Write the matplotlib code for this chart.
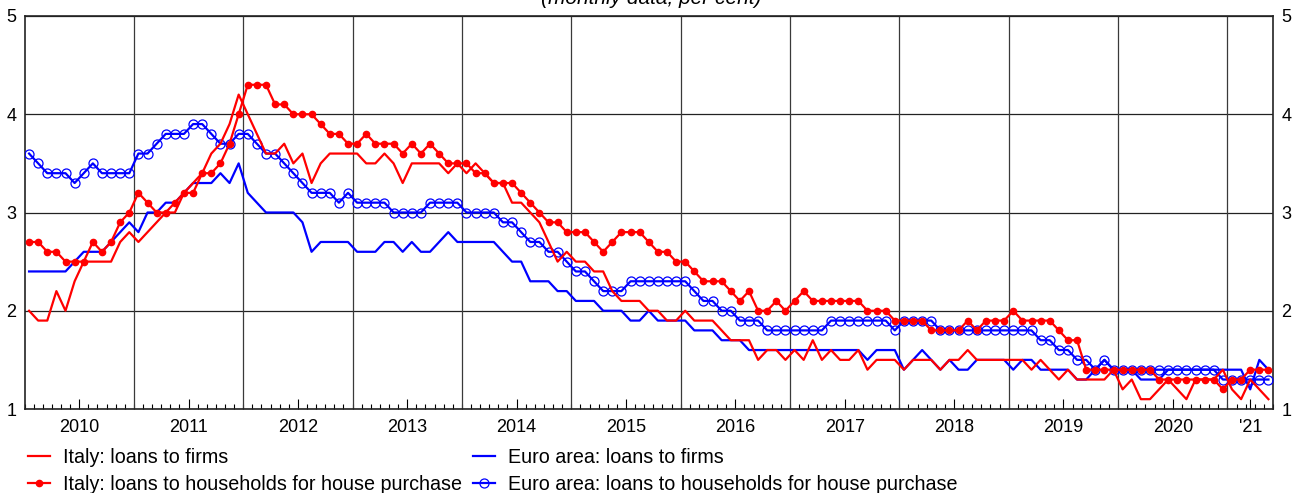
import numpy as np
import matplotlib.pyplot as plt
from matplotlib.lines import Line2D

plt.rcParams['font.family'] = ['Liberation Sans', 'DejaVu Sans']

# monthly data, Jan 2010 - May 2021 (per cent)
year_labels = ['2010', '2011', '2012', '2013', '2014', '2015', '2016',
               '2017', '2018', '2019', '2020', "'21"]

italy_firms = [
    2.0, 1.9, 1.9, 2.2, 2.0, 2.3, 2.5, 2.5, 2.5, 2.5, 2.7, 2.8,
    2.7, 2.8, 2.9, 3.0, 3.0, 3.2, 3.3, 3.4, 3.6, 3.7, 3.9, 4.2,
    4.0, 3.8, 3.6, 3.6, 3.7, 3.5, 3.6, 3.3, 3.5, 3.6, 3.6, 3.6,
    3.6, 3.5, 3.5, 3.6, 3.5, 3.3, 3.5, 3.5, 3.5, 3.5, 3.4, 3.5,
    3.4, 3.5, 3.4, 3.3, 3.3, 3.1, 3.1, 3.0, 2.9, 2.7, 2.5, 2.6,
    2.5, 2.5, 2.4, 2.4, 2.2, 2.1, 2.1, 2.1, 2.0, 2.0, 1.9, 1.9,
    2.0, 1.9, 1.9, 1.9, 1.8, 1.7, 1.7, 1.7, 1.5, 1.6, 1.6, 1.5,
    1.6, 1.5, 1.7, 1.5, 1.6, 1.5, 1.5, 1.6, 1.4, 1.5, 1.5, 1.5,
    1.4, 1.5, 1.5, 1.5, 1.4, 1.5, 1.5, 1.6, 1.5, 1.5, 1.5, 1.5,
    1.5, 1.5, 1.4, 1.5, 1.4, 1.3, 1.4, 1.3, 1.3, 1.3, 1.3, 1.4,
    1.2, 1.3, 1.1, 1.1, 1.2, 1.3, 1.2, 1.1, 1.3, 1.3, 1.3, 1.4,
    1.2, 1.1, 1.3, 1.2, 1.1,
]

italy_households = [
    2.7, 2.7, 2.6, 2.6, 2.5, 2.5, 2.5, 2.7, 2.6, 2.7, 2.9, 3.0,
    3.2, 3.1, 3.0, 3.0, 3.1, 3.2, 3.2, 3.4, 3.4, 3.5, 3.7, 4.0,
    4.3, 4.3, 4.3, 4.1, 4.1, 4.0, 4.0, 4.0, 3.9, 3.8, 3.8, 3.7,
    3.7, 3.8, 3.7, 3.7, 3.7, 3.6, 3.7, 3.6, 3.7, 3.6, 3.5, 3.5,
    3.5, 3.4, 3.4, 3.3, 3.3, 3.3, 3.2, 3.1, 3.0, 2.9, 2.9, 2.8,
    2.8, 2.8, 2.7, 2.6, 2.7, 2.8, 2.8, 2.8, 2.7, 2.6, 2.6, 2.5,
    2.5, 2.4, 2.3, 2.3, 2.3, 2.2, 2.1, 2.2, 2.0, 2.0, 2.1, 2.0,
    2.1, 2.2, 2.1, 2.1, 2.1, 2.1, 2.1, 2.1, 2.0, 2.0, 2.0, 1.9,
    1.9, 1.9, 1.9, 1.8, 1.8, 1.8, 1.8, 1.9, 1.8, 1.9, 1.9, 1.9,
    2.0, 1.9, 1.9, 1.9, 1.9, 1.8, 1.7, 1.7, 1.4, 1.4, 1.4, 1.4,
    1.4, 1.4, 1.4, 1.4, 1.3, 1.3, 1.3, 1.3, 1.3, 1.3, 1.3, 1.2,
    1.3, 1.3, 1.4, 1.4, 1.4,
]

euro_firms = [
    2.4, 2.4, 2.4, 2.4, 2.4, 2.5, 2.6, 2.6, 2.6, 2.7, 2.8, 2.9,
    2.8, 3.0, 3.0, 3.1, 3.1, 3.2, 3.3, 3.3, 3.3, 3.4, 3.3, 3.5,
    3.2, 3.1, 3.0, 3.0, 3.0, 3.0, 2.9, 2.6, 2.7, 2.7, 2.7, 2.7,
    2.6, 2.6, 2.6, 2.7, 2.7, 2.6, 2.7, 2.6, 2.6, 2.7, 2.8, 2.7,
    2.7, 2.7, 2.7, 2.7, 2.6, 2.5, 2.5, 2.3, 2.3, 2.3, 2.2, 2.2,
    2.1, 2.1, 2.1, 2.0, 2.0, 2.0, 1.9, 1.9, 2.0, 1.9, 1.9, 1.9,
    1.9, 1.8, 1.8, 1.8, 1.7, 1.7, 1.7, 1.6, 1.6, 1.6, 1.6, 1.6,
    1.6, 1.6, 1.6, 1.6, 1.6, 1.6, 1.6, 1.6, 1.5, 1.6, 1.6, 1.6,
    1.4, 1.5, 1.6, 1.5, 1.4, 1.5, 1.4, 1.4, 1.5, 1.5, 1.5, 1.5,
    1.4, 1.5, 1.5, 1.4, 1.4, 1.4, 1.4, 1.3, 1.3, 1.4, 1.5, 1.4,
    1.4, 1.4, 1.3, 1.3, 1.3, 1.4, 1.4, 1.4, 1.4, 1.4, 1.4, 1.4,
    1.4, 1.4, 1.2, 1.5, 1.4,
]

euro_households = [
    3.6, 3.5, 3.4, 3.4, 3.4, 3.3, 3.4, 3.5, 3.4, 3.4, 3.4, 3.4,
    3.6, 3.6, 3.7, 3.8, 3.8, 3.8, 3.9, 3.9, 3.8, 3.7, 3.7, 3.8,
    3.8, 3.7, 3.6, 3.6, 3.5, 3.4, 3.3, 3.2, 3.2, 3.2, 3.1, 3.2,
    3.1, 3.1, 3.1, 3.1, 3.0, 3.0, 3.0, 3.0, 3.1, 3.1, 3.1, 3.1,
    3.0, 3.0, 3.0, 3.0, 2.9, 2.9, 2.8, 2.7, 2.7, 2.6, 2.6, 2.5,
    2.4, 2.4, 2.3, 2.2, 2.2, 2.2, 2.3, 2.3, 2.3, 2.3, 2.3, 2.3,
    2.3, 2.2, 2.1, 2.1, 2.0, 2.0, 1.9, 1.9, 1.9, 1.8, 1.8, 1.8,
    1.8, 1.8, 1.8, 1.8, 1.9, 1.9, 1.9, 1.9, 1.9, 1.9, 1.9, 1.8,
    1.9, 1.9, 1.9, 1.9, 1.8, 1.8, 1.8, 1.8, 1.8, 1.8, 1.8, 1.8,
    1.8, 1.8, 1.8, 1.7, 1.7, 1.6, 1.6, 1.5, 1.5, 1.4, 1.5, 1.4,
    1.4, 1.4, 1.4, 1.4, 1.4, 1.4, 1.4, 1.4, 1.4, 1.4, 1.4, 1.3,
    1.3, 1.3, 1.3, 1.3, 1.3,
]

n = len(italy_firms)
x = 2010 + (np.arange(n) + 0.5) / 12.0
x_end = 2010 + n / 12.0

fig = plt.figure(figsize=(13.03, 4.93), dpi=100)
ax = fig.add_axes([24.5 / 1303, 84 / 493, 1248.5 / 1303, 393 / 493])

red = '#ff0000'
blue = '#0000ff'
lw = 1.6

ax.plot(x, euro_households, color=blue, lw=lw, marker='o', ms=6.5,
        mfc='none', mec=blue, mew=0.9, zorder=3)
ax.plot(x, euro_firms, color=blue, lw=lw, zorder=3)
ax.plot(x, italy_firms, color=red, lw=lw, zorder=4)
ax.plot(x, italy_households, color=red, lw=lw, marker='o', ms=4.5,
        mfc=red, mec=red, zorder=5)

ax.set_xlim(2010, x_end)
ax.set_ylim(1, 5)

# year separators
for yr in range(2011, 2022):
    ax.axvline(yr, color='#3a3a3a', lw=0.9, zorder=1)
ax.set_yticks([1, 2, 3, 4, 5])
ax.yaxis.grid(True, color='#222222', lw=0.9, zorder=1)
ax.set_axisbelow(True)
ax.tick_params(axis='y', length=0, labelleft=True, labelright=True,
               labelsize=13, pad=6)

mid_years = [2010 + i + 0.5 for i in range(len(year_labels))]
mid_years[-1] = 2021 + (x_end - 2021) / 2
ax.set_xticks(mid_years)
ax.set_xticklabels(year_labels)
ax.set_xticks([2010 + k / 12.0 for k in range(n + 1)], minor=True)
ax.tick_params(axis='x', which='major', direction='in', length=7,
               width=0.8, labelsize=13, pad=7)
ax.tick_params(axis='x', which='minor', direction='in', length=3.5,
               width=0.8)

for s in ax.spines.values():
    s.set_color('#222222')
    s.set_linewidth(1.2)

fig.text(0.5, 1 - 4 / 493, '(monthly data; per cent)', ha='center',
         va='baseline', fontsize=15, style='italic')

handles = [
    Line2D([], [], color=red, lw=lw),
    Line2D([], [], color=red, lw=lw, marker='o', ms=4.5),
    Line2D([], [], color=blue, lw=lw),
    Line2D([], [], color=blue, lw=lw, marker='o', ms=6.5, mfc='none', mew=0.9),
]
labels = ['Italy: loans to firms',
          'Italy: loans to households for house purchase',
          'Euro area: loans to firms',
          'Euro area: loans to households for house purchase']
fig.legend(handles, labels, loc='upper left', ncol=2,
           bbox_to_anchor=(28 / 1303, 1 - 448 / 493), frameon=False,
           fontsize=14.2, handlelength=1.1, handletextpad=0.65,
           columnspacing=0.6, labelspacing=0.4, borderpad=0,
           borderaxespad=0)

fig.savefig('out.png', dpi=100)
